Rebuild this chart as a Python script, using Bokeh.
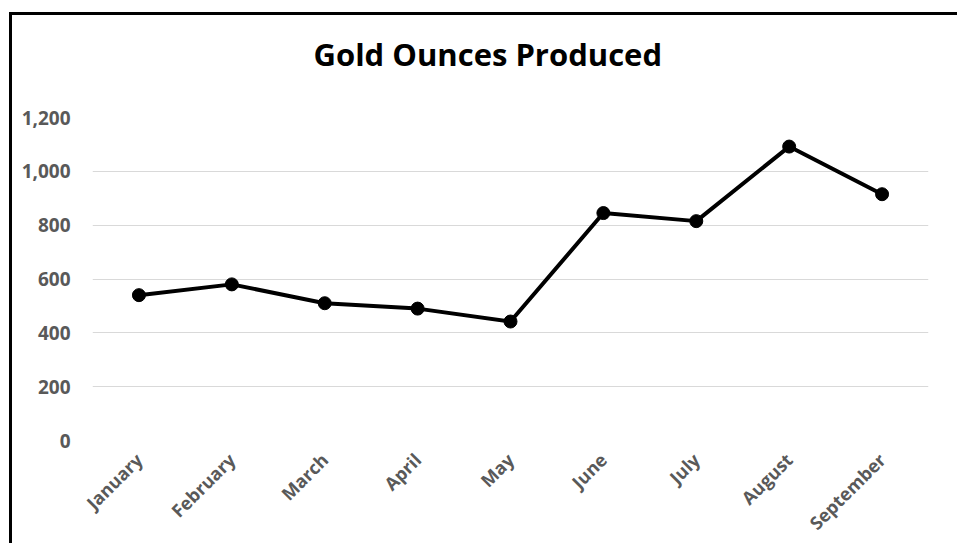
import math
from bokeh.plotting import figure
from bokeh.models import FactorRange, Range1d, NumeralTickFormatter, ColumnDataSource, FixedTicker, Title
from bokeh.embed import file_html
from bokeh.resources import INLINE

title_text = "Gold Ounces Produced"
months = ["January", "February", "March", "April", "May", "June", "July", "August", "September"]
ounces = [540, 580, 510, 490, 442, 845, 815, 1092, 915]
y_ticks = [0, 200, 400, 600, 800, 1000, 1200]

src = ColumnDataSource(dict(month=months, ounces=ounces))

p = figure(
    width=948, height=531,
    x_range=FactorRange(*months), y_range=Range1d(0, 1200),
    output_backend="svg", toolbar_location=None,
    min_border_left=80, min_border_right=32, min_border_top=102, min_border_bottom=106,
    title=None,
)
p.styles = {"margin-top": "12px", "margin-left": "9px",
            "border-top": "3px solid black", "border-left": "3px solid black"}

# spacer panel between the title and the plot frame
p.add_layout(Title(text=" ", text_font_size="2px", standoff=39), "above")
p.add_layout(Title(text=title_text, align="left", offset=221, standoff=0,
                   text_font="Open Sans", text_font_style="bold",
                   text_font_size="31px", text_color="black"), "above")

p.outline_line_color = None
p.background_fill_color = "white"
p.border_fill_color = "white"

p.xgrid.grid_line_color = None
p.ygrid.grid_line_color = "#d9d9d9"
p.ygrid.grid_line_width = 1
p.yaxis.ticker = FixedTicker(ticks=y_ticks)
p.yaxis.formatter = NumeralTickFormatter(format="0,0")
for ax in (p.xaxis, p.yaxis):
    ax.axis_line_color = None
    ax.major_tick_line_color = None
    ax.minor_tick_line_color = None
    ax.major_label_text_font = "Open Sans"
    ax.major_label_text_font_style = "bold"
    ax.major_label_text_color = "#595959"
p.yaxis.major_label_text_font_size = "19px"
p.yaxis.major_label_standoff = 16
p.xaxis.major_label_text_font_size = "18px"
p.xaxis.major_label_orientation = math.pi / 4
p.xaxis.major_label_standoff = 10

p.line("month", "ounces", source=src, line_color="black", line_width=4)
p.scatter("month", "ounces", source=src, size=13, fill_color="black", line_color="black")

open("out.html", "w").write(file_html(p, INLINE))
